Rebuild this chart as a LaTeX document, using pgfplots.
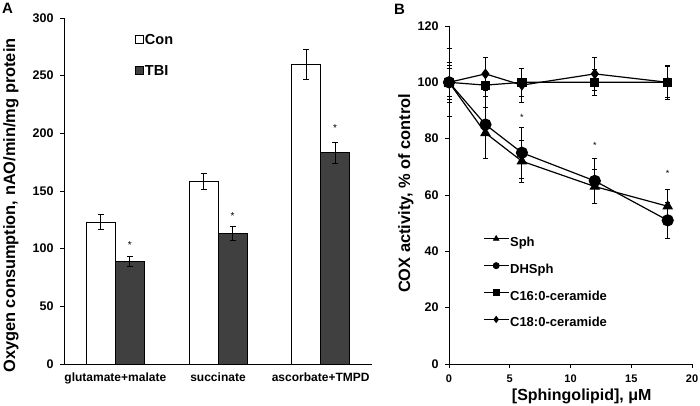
\documentclass[border=0pt]{standalone}
\usepackage{pgfplots}
\pgfplotsset{compat=1.18}
\usepackage{fontspec}
\setmainfont{Liberation Sans}
\definecolor{tbi}{HTML}{404040}
\begin{document}
\begin{tikzpicture}[font=\bfseries]
\useasboundingbox (0,0) rectangle (700pt,406pt);
\node[anchor=north west, inner sep=0pt, font=\bfseries\fontsize{15}{15}\selectfont] at (2pt,403pt) {A};
\node[anchor=north west, inner sep=0pt, font=\bfseries\fontsize{15}{15}\selectfont] at (394pt,402pt) {B};

\begin{axis}[
  at={(64pt,42pt)}, anchor=south west,
  scale only axis, width=308pt, height=346pt,
  xmin=-0.5, xmax=2.5, ymin=0, ymax=300,
  axis x line=bottom, axis y line=left,
  axis line style={-, line width=0.9pt},
  xtick={0,1,2}, xticklabels={glutamate+malate, succinate, ascorbate+TMPD},
  x tick style={draw=none},
  ytick={0,50,...,300}, tick align=outside,
  y tick style={line width=0.9pt, black}, major tick length=4pt,
  yticklabel style={font=\bfseries\fontsize{12.5}{12.5}\selectfont, xshift=-3pt},
  xticklabel style={font=\bfseries\fontsize{12}{12}\selectfont, yshift=-1pt},
  /pgf/number format/assume math mode=true,
  ybar=0pt, bar width=29pt,
  ylabel={Oxygen consumption, nAO/min/mg protein},
  ylabel style={font=\bfseries\fontsize{16.4}{17}\selectfont, at={(axis description cs:-0.172,0.458)}, anchor=center},
  legend style={draw=none, fill=none, at={(axis description cs:0.2305,0.956)}, anchor=north west,
    inner sep=0pt, row sep=16.5pt, column sep=1pt,
    nodes={inner sep=0pt, text height=11pt, text depth=3.5pt},
    font=\bfseries\fontsize{14.5}{15}\selectfont},
  legend cell align=left,
  legend image code/.code={\draw[#1, line width=0.8pt] (0pt,-3pt) rectangle (8pt,5pt);},
  clip=false,
]
\addplot[fill=white, draw=black, line width=0.9pt,
  error bars/.cd, y dir=both, y explicit,
  error bar style={line width=0.9pt, black},
  error mark options={rotate=90, mark size=3pt, line width=0.9pt, black}]
  coordinates {(0,123) +- (0,6.5) (1,158) +- (0,7) (2,260) +- (0,13)};
\addlegendentry{Con}
\addplot[fill=tbi, draw=black, line width=0.9pt,
  error bars/.cd, y dir=both, y explicit,
  error bar style={line width=0.9pt, black},
  error mark options={rotate=90, mark size=3pt, line width=0.9pt, black}]
  coordinates {(0,89) +- (0,4.5) (1,113) +- (0,6) (2,183) +- (0,9)};
\addlegendentry{TBI}
\node[font=\mdseries\fontsize{10}{10}\selectfont] at (axis cs:0.141,103) {*};
\node[font=\mdseries\fontsize{10}{10}\selectfont] at (axis cs:1.141,128) {*};
\node[font=\mdseries\fontsize{10}{10}\selectfont] at (axis cs:2.141,205) {*};
\end{axis}

\begin{axis}[
  at={(449pt,42pt)}, anchor=south west,
  scale only axis, width=243pt, height=338pt,
  xmin=0, xmax=20, ymin=0, ymax=120,
  axis x line=bottom, axis y line=left,
  axis line style={-, line width=0.9pt},
  xtick={0,5,...,20}, ytick={0,20,...,120},
  tick align=outside, tick style={line width=0.9pt, black}, major tick length=4pt,
  yticklabel style={font=\bfseries\fontsize{12.5}{12.5}\selectfont, xshift=-3pt},
  xticklabel style={font=\bfseries\fontsize{11}{11}\selectfont, yshift=-3pt},
  /pgf/number format/assume math mode=true,
  xlabel={[Sphingolipid], μM},
  xlabel style={font=\bfseries\fontsize{16}{17}\selectfont, at={(axis description cs:0.546,-0.095)}, anchor=center},
  ylabel={COX activity, \% of control},
  ylabel style={font=\bfseries\fontsize{16.4}{17}\selectfont, at={(axis description cs:-0.177,0.505)}, anchor=center},
  legend style={draw=none, fill=none, at={(axis description cs:0.14,0.38)}, anchor=north west,
    inner sep=0pt, row sep=13.4pt, column sep=1pt,
    nodes={inner sep=0pt, text height=9pt, text depth=3pt},
    font=\bfseries\fontsize{13}{13}\selectfont},
  legend cell align=left,
  legend image code/.code={\draw[#1, mark size=3pt, line width=0.9pt, mark repeat=2, mark phase=2] plot coordinates {(0pt,4.5pt) (12.5pt,4.5pt) (25pt,4.5pt)};},
  clip=false,
]
\addplot[black, line width=1.2pt, mark=triangle*, mark size=5pt,
  error bars/.cd, y dir=both, y explicit,
  error bar style={line width=0.9pt, black},
  error mark options={rotate=90, mark size=2.5pt, line width=0.9pt, black}]
  coordinates {(0,100) +- (0,6) (3,82) +- (0,9) (6,72) +- (0,7.5) (12,63) +- (0,6) (18,56) +- (0,6)};
\addlegendentry{Sph}
\addplot[black, line width=1.2pt, mark=*, mark size=5.5pt,
  error bars/.cd, y dir=both, y explicit,
  error bar style={line width=0.9pt, black},
  error mark options={rotate=90, mark size=2.5pt, line width=0.9pt, black}]
  coordinates {(0,100) +- (0,12) (3,85) +- (0,12) (6,75) +- (0,9) (12,65) +- (0,8) (18,51) +- (0,6.5)};
\addlegendentry{DHSph}
\addplot[black, line width=1.2pt, mark=square*, mark size=4pt,
  error bars/.cd, y dir=both, y explicit,
  error bar style={line width=0.9pt, black},
  error mark options={rotate=90, mark size=2.5pt, line width=0.9pt, black}]
  coordinates {(0,100) +- (0,5) (3,99) +- (0,4) (6,100) +- (0,5) (12,100) +- (0,4.5) (18,100) +- (0,5.5)};
\addlegendentry{C16:0-ceramide}
\addplot[black, line width=1.2pt, mark=diamond*, mark size=4.5pt,
  error bars/.cd, y dir=both, y explicit,
  error bar style={line width=0.9pt, black},
  error mark options={rotate=90, mark size=2.5pt, line width=0.9pt, black}]
  coordinates {(0,100) +- (0,7) (3,103) +- (0,6) (6,99) +- (0,6) (12,103) +- (0,6) (18,100) +- (0,6)};
\addlegendentry{C18:0-ceramide}
\node[font=\mdseries\fontsize{9}{9}\selectfont] at (axis cs:6,87.5) {*};
\node[font=\mdseries\fontsize{9}{9}\selectfont] at (axis cs:12,77.5) {*};
\node[font=\mdseries\fontsize{9}{9}\selectfont] at (axis cs:18,67.5) {*};
\end{axis}
\end{tikzpicture}
\end{document}
